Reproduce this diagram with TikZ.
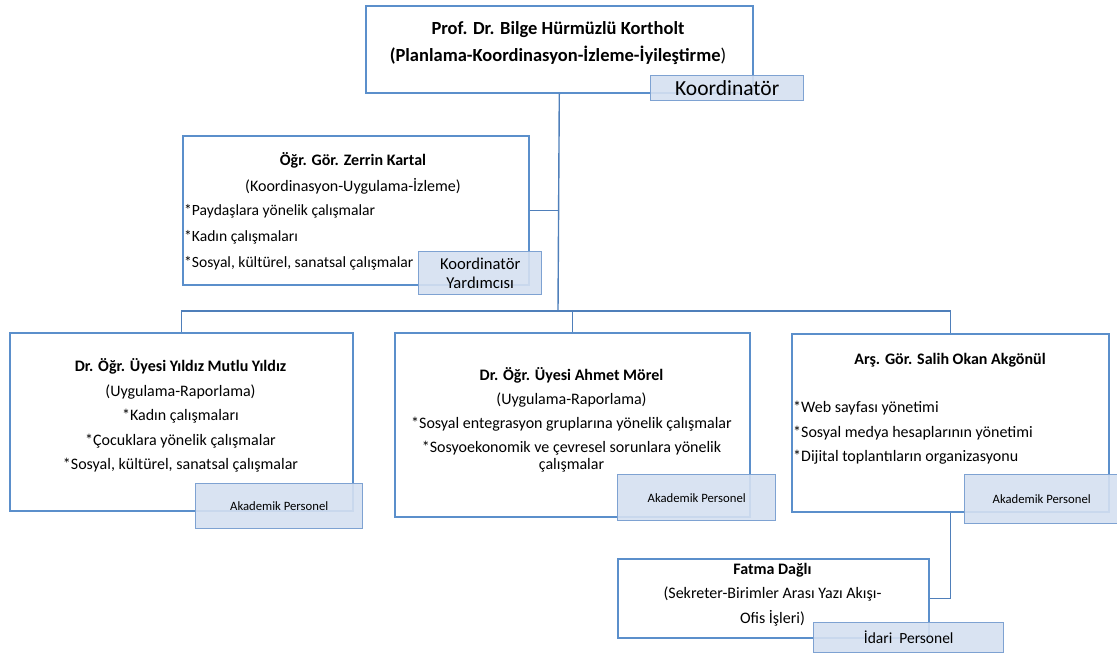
\documentclass[tikz,border=0pt]{standalone}
\usepackage{fontspec}
\setmainfont{Carlito}
\usetikzlibrary{positioning}
\definecolor{unitblue}{HTML}{5B8FCB}
\definecolor{tagedge}{HTML}{7EA2D2}
\definecolor{tagfill}{HTML}{D5E0F1}
\definecolor{wireblue}{HTML}{4F7FBA}
\newcommand*{\bodyfont}{\fontsize{16}{24.5}\selectfont}
\tikzset{
    unit/.style = {draw=unitblue,line width=1.6pt,fill=white,inner sep=0,anchor=north west},
    roletag/.style = {draw=tagedge,line width=1.4pt,fill=tagfill,fill opacity=0.9,text opacity=1,
        inner sep=0,anchor=north west,align=center},
    wire/.style = {draw=wireblue,line width=1.4pt},
    head/.style = {anchor=north,inner sep=0,align=center,execute at begin node=\strut},
    duties/.style = {anchor=north west,inner sep=0,align=left,execute at begin node=\strut}
}

\begin{document}
\begin{tikzpicture}[x=1pt,y=-1pt]
        \useasboundingbox (0,0) rectangle (1117,656);
        % Units
        \node[unit,minimum width=387pt,minimum height=87pt] (coord) at (365,5) {};
        \node[unit,minimum width=346pt,minimum height=149pt] (asst) at (182,135) {};
        \node[unit,minimum width=343pt,minimum height=178pt] (yildiz) at (9,332) {};
        \node[unit,minimum width=355pt,minimum height=184pt] (morel) at (394,332) {};
        \node[unit,minimum width=317pt,minimum height=178pt] (salih) at (791,333) {};
        \node[unit,minimum width=311pt,minimum height=79pt] (fatma) at (617,558) {};
        % Texts
        \node[head,font=\fontsize{18.5}{27}\selectfont\bfseries] (coordtxt) at (558,21.5)
            {Prof. Dr. Bilge Hürmüzlü Kortholt\\(Planlama-Koordinasyon-İzleme-İyileştirme{\mdseries)}};
        \node[head,font=\fontsize{16}{26}\selectfont] (assthead) at (353,152.5)
            {\textbf{Öğr. Gör. Zerrin Kartal}\\(Koordinasyon-Uygulama-İzleme)};
        \node[duties,font=\fontsize{15.6}{26}\selectfont] (asstlist) at (184,204.5)
            {*Paydaşlara yönelik çalışmalar\\*Kadın çalışmaları\\*Sosyal, kültürel, sanatsal çalışmalar};
        \node[head,font=\bodyfont] (yildiztxt) at (180.5,358.5)
            {\textbf{Dr. Öğr. Üyesi Yıldız Mutlu Yıldız}\\(Uygulama-Raporlama)\\*Kadın çalışmaları\\
            *Çocuklara yönelik çalışmalar\\*Sosyal, kültürel, sanatsal çalışmalar};
        \node[head,font=\fontsize{16}{24}\selectfont] (moreltxt) at (571.5,367)
            {\textbf{Dr. Öğr. Üyesi Ahmet Mörel}\\(Uygulama-Raporlama)\\*Sosyal entegrasyon gruplarına yönelik çalışmalar\\
            *Sosyoekonomik ve çevresel sorunlara yönelik\\[-7pt]çalışmalar};
        \node[head,font=\bodyfont\bfseries] (salihhead) at (950,347) {Arş. Gör. Salih Okan Akgönül};
        \node[duties,font=\bodyfont] (salihlist) at (793,401)
            {*Web sayfası yönetimi\\*Sosyal medya hesaplarının yönetimi\\*Dijital toplantıların organizasyonu};
        \node[head,font=\bodyfont] (fatmatxt) at (772.5,563)
            {\textbf{Fatma Dağlı}\\(Sekreter-Birimler Arası Yazı Akışı-\\Ofis İşleri)};
        % Connectors
        \coordinate (bus) at (558,311);
        \draw[wire] (coord.south) -- (bus);
        \draw[wire] (asst.east) -- (asst.east -| bus);
        \draw[wire] (yildiz.north) |- (bus) -| (salih.north);
        \draw[wire] (morel.north) -- (morel.north |- bus);
        \draw[wire] (salih.south) |- (fatma.east);
        % Role tags
        \node[roletag,minimum width=153pt,minimum height=25pt,font=\fontsize{21.5}{22}\selectfont] (coordtag) at (650,75) {Koordinatör};
        \node[roletag,minimum width=123pt,minimum height=43pt,font=\fontsize{16.6}{19.5}\selectfont] (assttag) at (418,251) {Koordinatör\\Yardımcısı};
        \foreach \name/\x/\y/\w/\h in {yildiztag/195/483/167/45,moreltag/617/474/158/46,salihtag/964/474/154/49}
            \node[roletag,minimum width=\w pt,minimum height=\h pt,font=\fontsize{12.7}{14}\selectfont] (\name) at (\x,\y) {Akademik Personel};
        \node[roletag,minimum width=190pt,minimum height=30pt,font=\fontsize{15.5}{17}\selectfont] (fatmatag) at (813,622) {İdari~ Personel};
    \end{tikzpicture}
\end{document}
